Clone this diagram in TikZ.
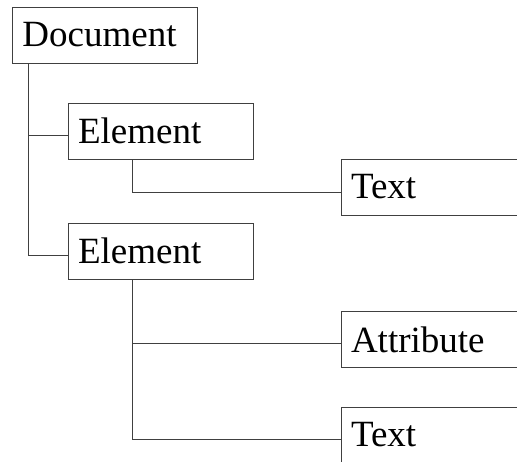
\documentclass[tikz,border=0pt]{standalone}
\usepackage{fontspec}
\setmainfont{Liberation Serif}
\usetikzlibrary{positioning}

\begin{document}
\begin{tikzpicture}[x=1pt, y=-1pt,
    box/.style={draw=black!75, line width=1pt, rectangle, minimum width=185pt,
      minimum height=56pt, text width=165pt, inner xsep=10pt, align=left,
      font=\fontsize{37}{44}\selectfont},
    link/.style={draw=black!75, line width=1pt}]
      \useasboundingbox (0, 0) rectangle (517, 461);
      \clip (0, 0) rectangle (517, 461);

      \node[box] (doc) at (105, 35) {Document};

      \node[box] (el1) at (160.5, 131) {Element};
      \node[box] (el2) at (160.5, 251) {Element};

      \node[box] (txt1) at (433.5, 187) {Text};
      \node[box] (attr) at (433.5, 339.5) {Attribute};
      \node[box] (txt2) at (433.5, 435) {Text};

      \draw[link] ([xshift=16pt]doc.south west) |- ([yshift=-4pt]el1.west);
      \draw[link] ([xshift=16pt]doc.south west) |- ([yshift=-4pt]el2.west);
      \draw[link] ([xshift=65pt]el1.south west) |- ([yshift=-5pt]txt1.west);
      \draw[link] ([xshift=65pt]el2.south west) |- ([yshift=-4pt]attr.west);
      \draw[link] ([xshift=65pt]el2.south west) |- ([yshift=-4pt]txt2.west);
    \end{tikzpicture}
\end{document}
